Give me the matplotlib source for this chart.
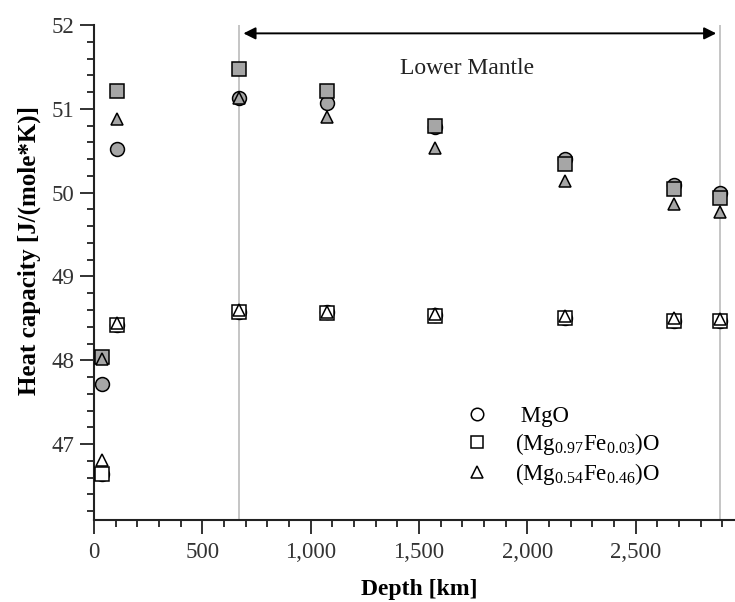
##################################################################
# Heat capacity of (Mg,Fe)O along depth
##################################################################
import matplotlib
matplotlib.use('Agg')
import matplotlib.pyplot as plt
from matplotlib.lines import Line2D
from matplotlib.ticker import MultipleLocator, FuncFormatter
import numpy as np

plt.rcParams['font.family'] = ['Liberation Serif', 'DejaVu Serif']
plt.rcParams['mathtext.default'] = 'regular'

##################################################################
## Data
depth = [35, 105, 670, 1075, 1575, 2175, 2675, 2891]   # [km]

# upper set (grey filled markers)
mgo_hi    = [47.72, 50.52, 51.13, 51.07, 50.78, 50.40, 50.09, 49.99]
fe003_hi  = [48.04, 51.21, 51.48, 51.21, 50.80, 50.34, 50.04, 49.94]
fe046_hi  = [48.02, 50.88, 51.13, 50.90, 50.53, 50.14, 49.87, 49.77]

# lower set (open markers)
mgo_lo    = [46.64, 48.42, 48.58, 48.57, 48.54, 48.50, 48.47, 48.47]
fe003_lo  = [46.64, 48.42, 48.58, 48.56, 48.53, 48.50, 48.47, 48.47]
fe046_lo  = [46.81, 48.44, 48.60, 48.58, 48.55, 48.53, 48.50, 48.49]

labels = [' MgO', r'(Mg$_{0.97}$Fe$_{0.03}$)O', r'(Mg$_{0.54}$Fe$_{0.46}$)O']
markers = ['o', 's', '^']
msizes = [10, 10, 9]

lm_top = 670    # top of lower mantle [km]
cmb = 2891      # core-mantle boundary [km]

##################################################################
## Plot
fig = plt.figure(figsize=(7.35, 6.02), dpi=100)
ax = fig.add_axes([0.128, 0.137, 0.871, 0.8215])

ax.axvline(lm_top, color='#bbbbbb', lw=1.2, zorder=1)
ax.axvline(cmb, color='#bbbbbb', lw=1.2, zorder=1)

grey = '#a6a6a6'
his = [mgo_hi, fe003_hi, fe046_hi]
los = [mgo_lo, fe003_lo, fe046_lo]
for i in range(3):
    ax.plot(depth, his[i], ls='none', marker=markers[i], ms=msizes[i],
            mfc=grey, mec='black', mew=1.1, zorder=3 + i)
    ax.plot(depth, los[i], ls='none', marker=markers[i], ms=msizes[i],
            mfc='white', mec='black', mew=1.1, zorder=3 + i)

# Lower mantle arrow
ax.annotate('', xy=(lm_top, 51.9), xytext=(cmb, 51.9),
            arrowprops=dict(arrowstyle='<|-|>', color='black', lw=1.4,
                            mutation_scale=18, shrinkA=3, shrinkB=3))
ax.text(1720, 51.48, 'Lower Mantle', fontsize=17, ha='center', va='center',
        color='#222222')

# Legend
handles = [Line2D([], [], ls='none', marker=markers[i], ms=msizes[i] - 1,
                  mfc='white', mec='black', mew=1.1) for i in range(3)]
ax.legend(handles, labels, loc='upper left', bbox_to_anchor=(0.553, 0.253),
          frameon=False, fontsize=16.5, handletextpad=0.9, labelspacing=0.18,
          borderpad=0, handlelength=1.5)

ax.set_xlim(0, 2955)
ax.set_ylim(46.1, 52)
ax.xaxis.set_major_locator(MultipleLocator(500))
ax.xaxis.set_minor_locator(MultipleLocator(100))
ax.yaxis.set_major_locator(MultipleLocator(1))
ax.yaxis.set_minor_locator(MultipleLocator(0.2))
ax.xaxis.set_major_formatter(FuncFormatter(lambda v, p: f'{v:,.0f}'))

for s in ['top', 'right']:
    ax.spines[s].set_visible(False)
for s in ['left', 'bottom']:
    ax.spines[s].set_linewidth(1.5)
    ax.spines[s].set_color('#222222')

ax.tick_params(which='major', length=10, width=1.3, labelsize=16.5,
               labelcolor='#333333', color='#222222')
ax.tick_params(which='minor', length=5, width=1.3, color='#222222')
ax.tick_params(axis='x', pad=6)
ax.tick_params(axis='y', pad=4)

ax.set_xlabel('Depth [km]', fontsize=17, fontweight='bold')
ax.set_ylabel('Heat capacity [J/(mole*K)]', fontsize=18, fontweight='bold')
ax.xaxis.set_label_coords(0.508, -0.121)
ax.yaxis.set_label_coords(-0.083, 0.545)

# Save the figure to file
plt.savefig('out.png', dpi=100)
plt.close()
##################################################################
